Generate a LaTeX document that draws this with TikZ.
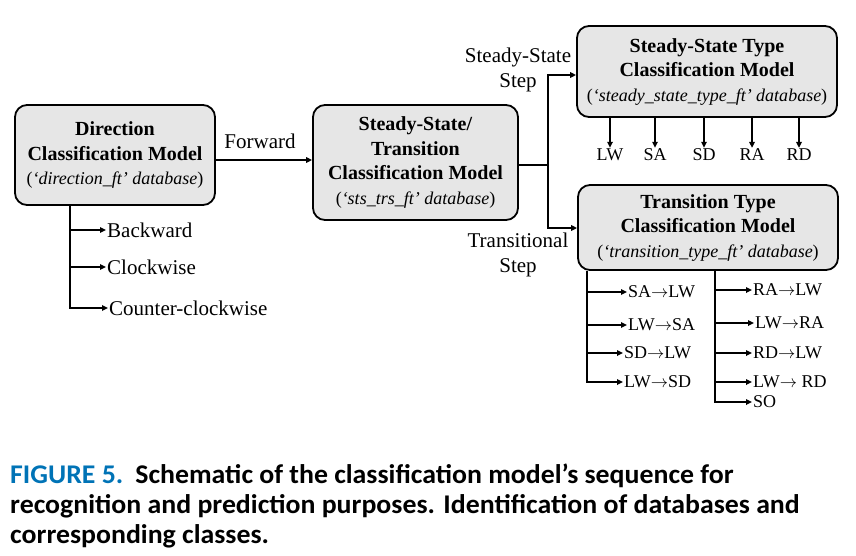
\documentclass[tikz,border=0pt]{standalone}
\usepackage{fontspec}
\IfFontExistsTF{LiberationSerif-Bold.ttf}{%
  \setmainfont{LiberationSerif-Regular.ttf}[BoldFont=LiberationSerif-Bold.ttf, ItalicFont=LiberationSerif-Italic.ttf, BoldItalicFont=LiberationSerif-BoldItalic.ttf]}{%
  \setmainfont{Liberation Serif}[BoldFont={Liberation Serif}, BoldFeatures={FakeBold=2.2}, ItalicFont={Liberation Serif}, ItalicFeatures={FakeSlant=0.21}]}
\newfontfamily\capfont[FakeStretch=1.03, BoldFont={Carlito Bold}]{Carlito}
\usetikzlibrary{arrows.meta}
\definecolor{boxgray}{HTML}{E6E6E6}
\definecolor{capblue}{RGB}{0,115,182}
\newcommand{\tra}{\ensuremath{\rightarrow}}
\begin{document}
\begin{tikzpicture}[x=1pt,y=-1pt,
  model/.style={draw=black, line width=1.8pt, fill=boxgray, rounded corners=12pt,
    align=center, inner sep=0pt, font=\fontsize{20}{24.5}\selectfont},
  lbl/.style={font=\fontsize{21}{25.5}\selectfont, inner sep=1pt, align=center},
  sml/.style={font=\fontsize{18}{22}\selectfont, inner sep=1pt},
  arr/.style={line width=1.6pt, -{Triangle[length=6pt,width=5.5pt]}},
  ln/.style={line width=1.6pt},
  captxt/.style={anchor=base west, inner sep=0pt, font=\capfont\bfseries\fontsize{27}{30}\selectfont}]
\useasboundingbox (0,0) rectangle (856,555);

% model boxes
\node[model, minimum width=200pt, minimum height=100pt] (A) at (115,155)
  {\textbf{Direction}\\\textbf{Classification Model}\\{\fontsize{18}{24.5}\selectfont(\textit{‘direction\_ft’ database})}};
\node[model, minimum width=205pt, minimum height=115pt] (B) at (415.5,162.5)
  {\textbf{Steady-State/}\\\textbf{Transition}\\\textbf{Classification Model}\\{\fontsize{18}{24.5}\selectfont(\textit{‘sts\_trs\_ft’ database})}};
\node[model, minimum width=260pt, minimum height=91pt] (C) at (707,71.5)
  {\textbf{Steady-State Type}\\\textbf{Classification Model}\\{\fontsize{18}{24.5}\selectfont(\textit{‘steady\_state\_type\_ft’ database})}};
\node[model, minimum width=260pt, minimum height=85pt] (D) at (708,227.5)
  {\textbf{Transition Type}\\\textbf{Classification Model}\\{\fontsize{18}{24.5}\selectfont(\textit{‘transition\_type\_ft’ database})}};

% A -> B
\coordinate (fw) at (215,160);
\draw[arr] (A.east |- fw) -- (B.west |- fw);
\node[lbl] (fwl) at (260,141) {Forward};

% B -> C, D
\coordinate (sp) at (548,165);
\coordinate (c1) at (548,75);
\coordinate (d1) at (548,228);
\draw[ln] (B.east |- sp) -- (sp);
\draw[arr] (sp) |- (C.west |- c1);
\draw[arr] (sp) |- (D.west |- d1);
\node[lbl] (ssl) at (518,70) {Steady-State\\Step};
\node[lbl] (trl) at (518,255) {Transitional\\Step};

% A outputs
\coordinate (ax) at (70,205);
\node[lbl, anchor=west] (bw) at (106,230) {Backward};
\node[lbl, anchor=west] (cw) at (106,267) {Clockwise};
\node[lbl, anchor=west] (ccw) at (108,308) {Counter-clockwise};
\draw[arr] (A.south -| ax) |- (ccw.west);
\draw[arr] (ax |- bw.west) -- (bw.west);
\draw[arr] (ax |- cw.west) -- (cw.west);

% C outputs
\foreach \nm/\xx in {LW/610, SA/655, SD/704, RA/752, RD/799}{
  \node[sml] (c\nm) at (\xx,155) {\nm};
  \draw[arr] (C.south -| c\nm) -- (c\nm.north);
}

% D outputs, left column
\coordinate (dl) at (587,270);
\node[sml, anchor=west] (t1) at (627,292) {SA\tra LW};
\node[sml, anchor=west] (t2) at (627,325) {LW\tra SA};
\node[sml, anchor=west] (t3) at (623,353) {SD\tra LW};
\node[sml, anchor=west] (t4) at (623,382) {LW\tra SD};
\draw[arr] (D.south -| dl) |- (t4.west);
\draw[arr] (dl |- t1.west) -- (t1.west);
\draw[arr] (dl |- t2.west) -- (t2.west);
\draw[arr] (dl |- t3.west) -- (t3.west);

% D outputs, right column
\coordinate (dr) at (715,270);
\node[sml, anchor=west] (u1) at (752,290) {RA\tra LW};
\node[sml, anchor=west] (u2) at (754,323) {LW\tra RA};
\node[sml, anchor=west] (u3) at (752,353) {RD\tra LW};
\node[sml, anchor=west] (u4) at (752,382) {LW\tra\ RD};
\node[sml, anchor=west] (u5) at (752,402) {SO};
\draw[arr] (D.south -| dr) |- (u5.west);
\draw[arr] (dr |- u1.west) -- (u1.west);
\draw[arr] (dr |- u2.west) -- (u2.west);
\draw[arr] (dr |- u3.west) -- (u3.west);
\draw[arr] (dr |- u4.west) -- (u4.west);

% caption
\node[captxt] (cap1) at (10,483) {\textcolor{capblue}{FIGURE 5.}\hspace{0.45em}Schematic of the classification model’s sequence for};
\node[captxt] (cap2) at (10,513) {recognition and prediction purposes. Identification of databases and};
\node[captxt] (cap3) at (10,543) {corresponding classes.};
\end{tikzpicture}
\end{document}
